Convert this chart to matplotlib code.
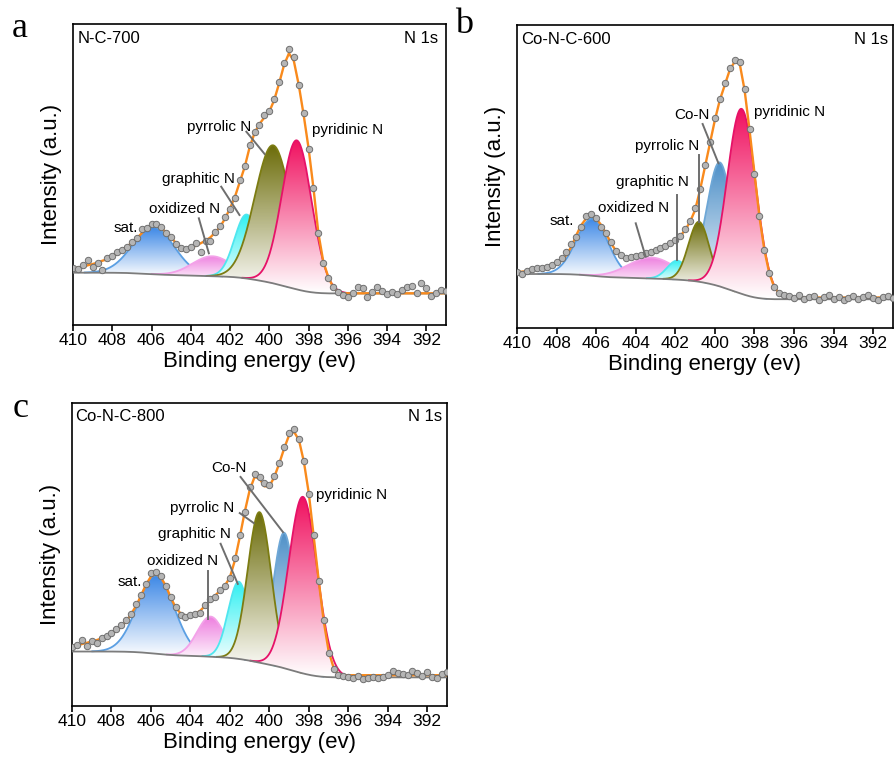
import numpy as np
import matplotlib
matplotlib.use('Agg')
import matplotlib.pyplot as plt
from matplotlib.colors import to_rgb
from matplotlib.patches import Polygon

plt.rcParams['font.family'] = ['Liberation Sans', 'DejaVu Sans']

# binding energy of the scan points (eV), 0.25 eV step
energy = np.linspace(410, 391, 77)

# ---------------- N-C-700 ----------------
nc700_raw = [57, 56, 60, 65,   58, 62, 55, 67,   69, 73, 75, 78,   83, 87, 96, 97,
             101, 101, 98, 92,  88, 81, 77, 76,  78, 82, 73, 84,  84, 93, 99, 108,
             116, 127, 145, 159,  180, 193, 200, 210,  214, 226, 243, 262,  276, 268, 240, 212,
             176, 137, 92, 62,  47, 38, 33, 30,  28, 32, 38, 37,  28, 33, 38, 34,
             31, 33, 31, 35,  38, 39, 32, 42,  37, 29, 32, 35,  34]
nc700_fit = [56.7, 57.3, 58.3, 59.7,  61.0, 62.3, 64.3, 65.7,  68.3, 71.0, 75.0, 78.3,
             82.3, 86.7, 91.7, 96.7,  100.0, 100.0, 96.7, 92.7,  87.7, 81.7, 76.7, 75.0,
             76.7, 79.3, 81.7, 84.3,  87.7, 92.7, 98.3, 106.7,  116.7, 128.3, 143.3, 158.3,
             178.0, 192.0, 201.0, 207.7,  213.3, 225.0, 241.7, 260.0,  271.7, 264.0, 240.0, 210.0,
             176.7, 136.7, 91.7, 63.3,  48.3, 37.7, 33.0, 31.7,  31.7, 31.7, 31.7, 31.7,
             31.7, 31.7, 31.7, 31.7,  31.7, 31.7, 31.7, 31.7,  31.7, 31.7, 31.7, 31.7,
             31.7, 31.7, 31.7, 31.7,  31.7]
nc700_names = ['sat.', 'oxidized N', 'graphitic N', 'pyrrolic N', 'pyridinic N']
nc700_center = [405.9, 402.9, 401.15, 399.8, 398.6]
nc700_height = [47, 20, 64, 138, 149]
nc700_fwhm = [2.5, 2.4, 1.45, 2.2, 1.8]
nc700_bg = [31.5, 52.3]

# ---------------- Co-N-C-600 ----------------
con600_raw = [56, 54, 57, 59,  60, 60, 61, 63,  66, 70, 76, 84,  91, 101, 112, 114,
              110, 101, 95, 86,  77, 73, 70, 71,  72, 73, 75, 76,  78, 80, 82, 85,
              88, 92, 99, 107,  120, 139, 163, 186,  210, 229, 245, 260,  268, 266, 239, 199,
              154, 112, 78, 55,  41, 35, 33, 32,  30, 33, 29, 31,  32, 28, 31, 33,
              29, 31, 28, 30,  32, 29, 31, 33,  30, 28, 31, 32,  30]
con600_fit = [56.3, 56.3, 57.0, 58.0,  59.3, 60.3, 61.3, 62.3,  64.0, 67.3, 73.0, 81.3,
              93.0, 103.0, 109.7, 112.0,  109.7, 103.0, 94.7, 84.7,  77.3, 72.0, 69.7, 69.3,
              70.7, 72.0, 73.0, 74.7,  77.3, 79.7, 81.3, 83.7,  87.3, 92.0, 98.0, 106.3,
              118.0, 138.0, 161.3, 184.7,  208.0, 228.0, 243.0, 258.0,  266.3, 264.7, 238.0, 198.0,
              154.7, 111.3, 78.0, 54.7,  40.7, 34.7, 32.7, 31.0,  30.5, 30.5, 30.5, 30.5,
              30.5, 30.5, 30.5, 30.5,  30.5, 30.5, 30.5, 30.5,  30.5, 30.5, 30.5, 30.5,
              30.5, 30.5, 30.5, 30.5,  30.5]
con600_names = ['sat.', 'oxidized N', 'graphitic N', 'Co-N', 'pyrrolic N', 'pyridinic N']
con600_center = [406.2, 403.2, 401.9, 399.75, 400.8, 398.65]
con600_height = [57, 21, 19, 124, 60, 185]
con600_fwhm = [1.9, 2.8, 1.2, 1.55, 1.25, 1.7]
con600_bg = [28.7, 54.0]

# ---------------- Co-N-C-800 ----------------
con800_raw = [59, 61, 66, 60,  65, 63, 68, 70,  73, 77, 81, 86,  92, 102, 111, 122,
              133, 134, 130, 120,  109, 99, 91, 89,  91, 92, 93, 101,  107, 109, 116, 120,
              128, 148, 170, 193,  218, 231, 228, 222,  220, 229, 242, 258,  272, 276, 266, 244,
              211, 170, 125, 86,  53, 37, 31, 30,  29, 28, 30, 27,  28, 29, 28, 29,
              31, 35, 33, 32,  31, 35, 33, 30,  34, 29, 28, 32,  34]
con800_fit = [60.0, 60.7, 61.7, 63.0,  64.3, 65.7, 67.3, 69.0,  71.7, 75.0, 79.3, 84.3,
              91.7, 100.0, 110.0, 121.0,  129.0, 131.7, 128.3, 120.0,  108.3, 98.3, 92.3, 90.0,
              90.0, 91.7, 95.0, 100.0,  105.0, 110.0, 115.0, 120.0,  128.3, 145.0, 168.3, 193.3,
              215.0, 228.3, 226.7, 219.0,  219.0, 228.3, 241.7, 256.7,  270.0, 273.3, 265.0, 243.3,
              211.7, 168.3, 125.0, 85.0,  55.0, 38.3, 31.7, 30.7,  30.7, 30.7, 30.7, 30.7,
              30.7, 30.7, 30.7, 30.7,  30.7, 30.7, 30.7, 30.7,  30.7, 30.7, 30.7, 30.7,
              30.7, 30.7, 30.7, 30.7,  30.7]
con800_names = ['sat.', 'oxidized N', 'graphitic N', 'Co-N', 'pyrrolic N', 'pyridinic N']
con800_center = [405.75, 402.98, 401.55, 399.25, 400.5, 398.3]
con800_height = [78, 40, 77, 135, 150, 176]
con800_fwhm = [2.2, 1.6, 1.26, 1.3, 1.4, 1.7]
con800_bg = [28.5, 54.3]

# fill colour (top of gradient) and outline colour for each component
peak_style = {
    'sat.':        ('#3d88e6', '#5b9fe3'),
    'oxidized N':  ('#ee7fdf', '#f3a2e9'),
    'graphitic N': ('#2ff0f2', '#4fe6ef'),
    'pyrrolic N':  ('#6b6b08', '#7c7c12'),
    'Co-N':        ('#4e90c8', '#6ea7d6'),
    'pyridinic N': ('#f0105f', '#e61268'),
}


def gaussian(x, c, h, w):
    return h * np.exp(-4 * np.log(2) * ((x - c) / w) ** 2)


def gradient_peak(ax, x, base, top, color, edge, z):
    poly = Polygon(np.column_stack([np.r_[x, x[::-1]], np.r_[top, base[::-1]]]),
                   closed=True, facecolor='none', edgecolor='none')
    ax.add_patch(poly)
    t = np.linspace(0, 1, 256)[:, None, None]
    rgb = np.array(to_rgb(color))[None, None, :]
    img = 1 - (1 - rgb) * t
    im = ax.imshow(img, extent=[x.min(), x.max(), base.min(), top.max()],
                   origin='lower', aspect='auto', interpolation='bilinear', zorder=z)
    im.set_clip_path(poly)
    ax.plot(x, top, color=edge, lw=1.3, zorder=z + 0.1)


def draw_panel(ax, raw, fit, names, centers, heights, fwhms, bg_ends, ytop):
    xf = np.linspace(391, 410, 1901)
    comps = [gaussian(xf, c, h, w) for c, h, w in zip(centers, heights, fwhms)]
    total = np.sum(comps, axis=0)
    # Shirley-type background from the integrated component area
    cum = np.concatenate([[0], np.cumsum((total[1:] + total[:-1]) / 2)])
    bg = bg_ends[0] + (bg_ends[1] - bg_ends[0]) * cum / cum[-1]

    for i, (name, pk) in enumerate(zip(names, comps)):
        m = pk > 0.2
        fill, edge = peak_style[name]
        gradient_peak(ax, xf[m], bg[m], bg[m] + pk[m], fill, edge, 2 + i)

    ax.plot(xf, bg, color='#7c7c7c', lw=1.3, zorder=12)
    ax.plot(energy, fit, color='#f98a1c', lw=1.7, zorder=14)
    ax.plot(energy, raw, 'o', ms=4.6, mfc='#b5b5b5', mec='#6f6f6f', mew=0.7, zorder=16)

    ax.set_xlim(410, 391)
    ax.set_ylim(0, ytop)
    ax.set_xticks(np.arange(410, 391, -2))
    ax.set_yticks([])
    ax.tick_params(axis='x', direction='out', length=4, width=1.2, labelsize=12.5, pad=2)
    for s in ax.spines.values():
        s.set_linewidth(1.2)
    ax.set_xlabel('Binding energy (ev)', fontsize=16, labelpad=2)
    ax.set_ylabel('Intensity (a.u.)', fontsize=16, labelpad=8)


def add_labels(ax, labels):
    for text, x, y, ha, line in labels:
        ax.text(x, y, text, ha=ha, va='center', fontsize=11, zorder=20)
        if line is not None:
            ax.plot([line[0], line[2]], [line[1], line[3]], color='#6e6e6e', lw=1.4, zorder=18)


fig = plt.figure(figsize=(8.95, 7.6), dpi=100)
ax_a = fig.add_axes([73 / 895, 1 - 325 / 760, 373 / 895, 301 / 760])
ax_b = fig.add_axes([517 / 895, 1 - 328 / 760, 376 / 895, 303 / 760])
ax_c = fig.add_axes([72 / 895, 1 - 706 / 760, 375 / 895, 303 / 760])

draw_panel(ax_a, nc700_raw, nc700_fit, nc700_names, nc700_center, nc700_height,
           nc700_fwhm, nc700_bg, 301)
draw_panel(ax_b, con600_raw, con600_fit, con600_names, con600_center, con600_height,
           con600_fwhm, con600_bg, 303)
draw_panel(ax_c, con800_raw, con800_fit, con800_names, con800_center, con800_height,
           con800_fwhm, con800_bg, 302)

add_labels(ax_a, [
    ('sat.', 407.3, 97.3, 'center', None),
    ('oxidized N', 402.49, 115.7, 'right', (403.59, 106.7, 403.08, 71.7)),
    ('graphitic N', 401.76, 145.7, 'right', (402.45, 138.3, 401.52, 110.0)),
    ('pyrrolic N', 400.92, 198.3, 'right', (401.17, 193.3, 400.24, 171.0)),
    ('pyridinic N', 397.81, 195.0, 'left', None),
])
add_labels(ax_b, [
    ('sat.', 407.72, 107.3, 'center', None),
    ('oxidized N', 402.3, 119.7, 'right', (404.0, 104.7, 403.5, 71.3)),
    ('graphitic N', 401.32, 146.3, 'right', (401.91, 133.0, 401.91, 68.0)),
    ('pyrrolic N', 400.79, 182.3, 'right', (400.82, 173.0, 400.82, 106.3)),
    ('Co-N', 400.28, 213.0, 'right', (400.62, 204.0, 399.82, 164.7)),
    ('pyridinic N', 398.02, 216.3, 'left', None),
])
add_labels(ax_c, [
    ('sat.', 407.09, 123.3, 'center', None),
    ('oxidized N', 402.61, 145.0, 'right', (403.11, 134.3, 403.11, 86.7)),
    ('graphitic N', 401.94, 171.0, 'right', (402.47, 161.7, 401.6, 121.7)),
    ('pyrrolic N', 401.77, 197.3, 'right', (401.5, 192.3, 400.79, 182.3)),
    ('Co-N', 401.16, 237.7, 'right', (401.46, 228.3, 399.31, 173.3)),
    ('pyridinic N', 397.63, 210.0, 'left', None),
])

for ax, name, xl, xr, yt in [(ax_a, 'N-C-700', 0.012, 0.979, 0.952),
                             (ax_b, 'Co-N-C-600', 0.011, 0.987, 0.953),
                             (ax_c, 'Co-N-C-800', 0.008, 0.986, 0.957)]:
    ax.text(xl, yt, name, transform=ax.transAxes, ha='left', va='center', fontsize=12, zorder=20)
    ax.text(xr, yt, 'N 1s', transform=ax.transAxes, ha='right', va='center', fontsize=12, zorder=20)

for letter, x, y in [('a', 12, 37), ('b', 455, 33), ('c', 13, 417)]:
    fig.text(x / 895, 1 - y / 760, letter, family='Liberation Serif', fontsize=26,
             ha='left', va='baseline')

fig.savefig('out.png', dpi=100)
